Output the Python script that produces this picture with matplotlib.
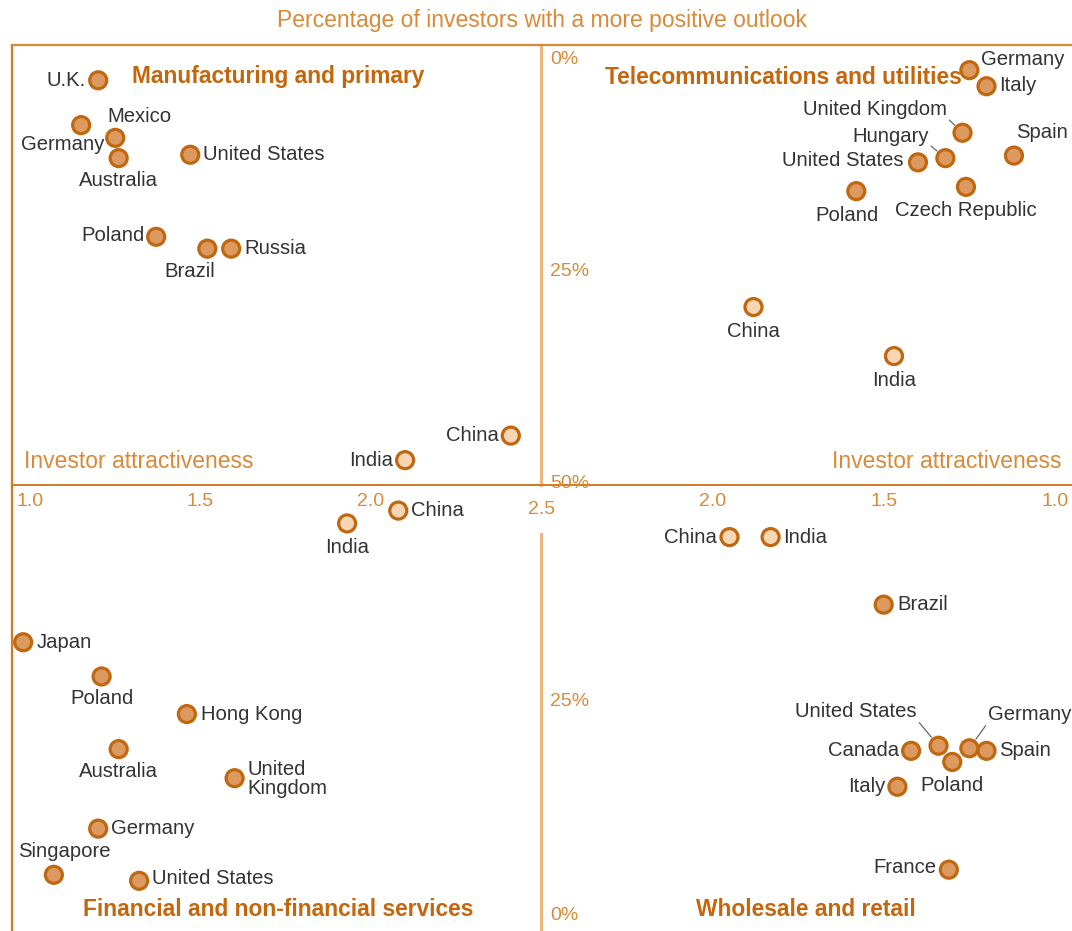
import matplotlib
matplotlib.use("Agg")
import matplotlib.pyplot as plt

plt.rcParams['font.family'] = ['Liberation Sans', 'DejaVu Sans']

# --- data: investor attractiveness (x) vs % with more positive outlook (y) ---
mfg_names = ['U.K.', 'Mexico', 'Germany', 'Australia', 'United States',
             'Poland', 'Brazil', 'Russia', 'China', 'India']
mfg_x = [1.20, 1.15, 1.25, 1.26, 1.47, 1.37, 1.52, 1.59, 2.41, 2.10]
mfg_y = [2.4, 7.7, 9.2, 11.6, 11.2, 20.9, 22.3, 22.3, 44.4, 47.3]

tel_names = ['Germany', 'Italy', 'United Kingdom', 'Hungary', 'United States',
             'Spain', 'Czech Republic', 'Poland', 'China', 'India']
tel_x = [1.25, 1.20, 1.27, 1.32, 1.40, 1.12, 1.26, 1.58, 1.88, 1.47]
tel_y = [1.2, 3.1, 8.6, 11.6, 12.1, 11.3, 15.0, 15.5, 29.2, 35.0]

fin_names = ['China', 'India', 'Japan', 'Poland', 'Hong Kong', 'Australia',
             'United\nKingdom', 'Germany', 'Singapore', 'United States']
fin_x = [2.08, 1.93, 0.98, 1.21, 1.46, 1.26, 1.60, 1.20, 1.07, 1.32]
fin_y = [47.3, 45.8, 31.9, 27.9, 23.5, 19.4, 16.0, 10.1, 4.7, 4.0]

ret_names = ['China', 'India', 'Brazil', 'United States', 'Canada', 'Germany',
             'Spain', 'Poland', 'Italy', 'France']
ret_x = [1.95, 1.83, 1.50, 1.34, 1.42, 1.25, 1.20, 1.30, 1.46, 1.31]
ret_y = [44.2, 44.2, 36.3, 19.8, 19.2, 19.5, 19.2, 17.9, 15.0, 5.3]

highlight = ['China', 'India']
x_ticks = [1.0, 1.5, 2.0, 2.5]

# --- label placement (pixel offsets from the marker, dy down positive) ---
mfg_lab = [(-12, 0, 'right'), (26, -9, 'left'), (-11, 7, 'right'), (0, 22, 'center'),
           (13, 0, 'left'), (-12, -1, 'right'), (-18, 23, 'center'), (13, 0, 'left'),
           (-12, 0, 'right'), (-12, 0, 'right')]
tel_lab = [(12, -11, 'left'), (13, -1, 'left'), (-16, -23, 'right'), (-17, -22, 'right'),
           (-14, -2, 'right'), (2, -23, 'left'), (0, 24, 'center'), (-9, 24, 'center'),
           (0, 24, 'center'), (0, 24, 'center')]
fin_lab = [(13, 0, 'left'), (0, 24, 'center'), (14, 0, 'left'), (0, 22, 'center'),
           (14, 0, 'left'), (0, 22, 'center'), (13, 1, 'left'), (13, 0, 'left'),
           (10, -23, 'center'), (13, -2, 'left')]
ret_lab = [(-13, 0, 'right'), (13, 0, 'left'), (14, 0, 'left'), (-22, -34, 'right'),
           (-12, 0, 'right'), (19, -34, 'left'), (13, 0, 'left'), (0, 24, 'center'),
           (-12, 0, 'right'), (-12, -2, 'right')]
leaders = {('tel', 'United Kingdom'), ('tel', 'Hungary'),
           ('ret', 'United States'), ('ret', 'Germany')}

ORANGE = '#c4670c'
LIGHT_OR = '#d98a38'
EDGE = '#c0670f'
FILL = '#dc9a60'
FILL_HI = '#f7d6b4'
TXT = '#333333'
LAB_FS = 14.6

W, H = 1072, 931
fig = plt.figure(figsize=(W / 100, H / 100), dpi=100)


def px_axes(x0, y0, x1, y1):
    ax = fig.add_axes([x0 / W, 1 - y1 / H, (x1 - x0) / W, (y1 - y0) / H])
    ax.set_facecolor('none')
    for s in ax.spines.values():
        s.set_visible(False)
    ax.set_xticks([])
    ax.set_yticks([])
    return ax


ax_tl = px_axes(12, 45, 541, 485)
ax_tr = px_axes(541, 45, 1072, 485)
ax_bl = px_axes(12, 485, 541, 931)
ax_br = px_axes(541, 485, 1072, 931)

for ax in (ax_tl, ax_bl):
    ax.set_xlim(1 + (12 - 30) / 341, 1 + (541 - 30) / 341)
for ax in (ax_tr, ax_br):
    ax.set_xlim(2.5, 2.5 - 531 / 342.7)
for ax in (ax_tl, ax_tr):
    ax.set_ylim(50 + 2 / 8.46, -15 / 8.46)
for ax in (ax_bl, ax_br):
    ax.set_ylim(-16 / 8.55, 430 / 8.55)

# frame lines
for ax in (ax_tl, ax_tr):
    ax.spines['top'].set_visible(True)
    ax.spines['top'].set_color(LIGHT_OR)
    ax.spines['top'].set_linewidth(1.6)
    ax.spines['bottom'].set_visible(True)
    ax.spines['bottom'].set_color('#d27a22')
    ax.spines['bottom'].set_linewidth(1.4)
for ax in (ax_tl, ax_bl):
    ax.spines['left'].set_visible(True)
    ax.spines['left'].set_color('#cf7a2a')
    ax.spines['left'].set_linewidth(1.6)
ax_tl.spines['right'].set_visible(True)
ax_tl.spines['right'].set_color('#ebb680')
ax_tl.spines['right'].set_linewidth(2.2)
ax_br.axvline(2.5, 0, 0.89, color='#ebb680', lw=2.2, clip_on=False)
ax_br.plot([2.5, 2.5 + 6 / 342.7], [50.3, 50.3], color='#d27a22', lw=1.4, clip_on=False)

# axis value labels
for ax in (ax_bl, ax_br):
    for v in x_ticks:
        if ax is ax_br and v == 2.5:
            continue
        ax.text(v, 0.962 if v < 2.5 else 0.945, f'{v:.1f}', transform=ax.get_xaxis_transform(),
                ha='center', va='center', fontsize=14, color=LIGHT_OR)
for v in (0, 25, 50):
    ax_tr.text(0.017, v, f'{v}%', transform=ax_tr.get_yaxis_transform(),
               ha='left', va='center', fontsize=14, color=LIGHT_OR)
for v in (0, 25):
    ax_br.text(0.017, v, f'{v}%', transform=ax_br.get_yaxis_transform(),
               ha='left', va='center', fontsize=14, color=LIGHT_OR)

fig.text(542 / W, 1 - 20 / H, 'Percentage of investors with a more positive outlook',
         ha='center', va='center', fontsize=16.5, color=LIGHT_OR)
fig.text(24 / W, 1 - 462 / H, 'Investor attractiveness', ha='left', va='center',
         fontsize=16.5, color=LIGHT_OR)
fig.text(1062 / W, 1 - 462 / H, 'Investor attractiveness', ha='right', va='center',
         fontsize=16.5, color=LIGHT_OR)

heads = [('Manufacturing and primary', 278, 77), ('Telecommunications and utilities', 783, 77),
         ('Financial and non-financial services', 278, 910), ('Wholesale and retail', 806, 910)]
for t, hx, hy in heads:
    fig.text(hx / W, 1 - hy / H, t, ha='center', va='center', fontsize=16.4,
             fontweight='bold', color=ORANGE)

quads = [('mfg', ax_tl, mfg_names, mfg_x, mfg_y, mfg_lab),
         ('tel', ax_tr, tel_names, tel_x, tel_y, tel_lab),
         ('fin', ax_bl, fin_names, fin_x, fin_y, fin_lab),
         ('ret', ax_br, ret_names, ret_x, ret_y, ret_lab)]

for key, ax, names, xs, ys, labs in quads:
    fills = [FILL_HI if n in highlight else FILL for n in names]
    ax.scatter(xs, ys, s=150, c=fills, edgecolors=EDGE, linewidths=2.3,
               zorder=3, clip_on=False)
    for n, x, y, (dx, dy, ha) in zip(names, xs, ys, labs):
        if (key, n) in leaders:
            rel = (1, 0.1) if ha == 'right' else (0, 0.1)
            ax.annotate(n, (x, y), xytext=(dx, -dy), textcoords='offset pixels',
                        ha=ha, va='center', fontsize=LAB_FS, color=TXT,
                        arrowprops=dict(arrowstyle='-', color='#666666', lw=0.9,
                                        shrinkA=0, shrinkB=8, relpos=rel),
                        zorder=2, annotation_clip=False)
        else:
            ax.annotate(n, (x, y), xytext=(dx, -dy), textcoords='offset pixels',
                        ha=ha, va='center', fontsize=LAB_FS, color=TXT,
                        linespacing=0.98, zorder=4, annotation_clip=False)

fig.savefig('out.png', dpi=100, facecolor='white')
